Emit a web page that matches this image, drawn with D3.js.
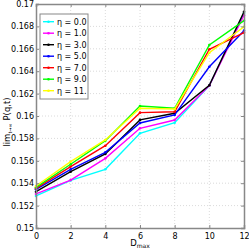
<!DOCTYPE html>
<html>
<head>
<meta charset="utf-8">
<script src="https://cdn.jsdelivr.net/npm/d3@7"></script>
<style>
  body { margin: 0; background: #fff; }
  text { font-family: "DejaVu Sans", sans-serif; }
</style>
</head>
<body>
<div id="chart"></div>
<script>
// data
var dmax = [0, 2, 4, 6, 8, 10, 12];
var etaLabels = ["\u03b7 = 0.0", "\u03b7 = 1.0", "\u03b7 = 3.0", "\u03b7 = 5.0", "\u03b7 = 7.0", "\u03b7 = 9.0", "\u03b7 = 11."];
var colors = ["#00ffff", "#ff00ff", "#000000", "#0000ff", "#ff0000", "#00ff00", "#ffff00"];
var eta0  = [0.15286, 0.15425, 0.15524, 0.15846, 0.15940, 0.16271, 0.16920];
var eta1  = [0.15304, 0.15428, 0.15622, 0.15890, 0.15964, 0.16271, 0.16900];
var eta3  = [0.15324, 0.15503, 0.15661, 0.15965, 0.16024, 0.16275, 0.16930];
var eta5  = [0.15345, 0.15524, 0.15676, 0.15938, 0.16009, 0.16440, 0.16762];
var eta7  = [0.15354, 0.15548, 0.15735, 0.16030, 0.16038, 0.16596, 0.16744];
var eta9  = [0.15363, 0.15569, 0.15780, 0.16089, 0.16069, 0.16634, 0.16851];
var eta11 = [0.15375, 0.15592, 0.15786, 0.16069, 0.16063, 0.16565, 0.16797];
var series = [eta0, eta1, eta3, eta5, eta7, eta9, eta11];
var xTicks = [0, 2, 4, 6, 8, 10, 12];
var yTicks = [0.15, 0.152, 0.154, 0.156, 0.158, 0.16, 0.162, 0.164, 0.166, 0.168, 0.17];

var W = 249, H = 250;
var margin = {top: 4, right: 5, bottom: 22, left: 36};
var width = W - margin.left - margin.right;
var height = H - margin.top - margin.bottom;

var svg = d3.select("#chart").append("svg")
  .attr("width", W).attr("height", H);
var g = svg.append("g")
  .attr("transform", "translate(" + margin.left + "," + margin.top + ")");

var x = d3.scaleLinear().domain([0, 12]).range([0, width]);
var y = d3.scaleLinear().domain([0.15, 0.17]).range([height, 0]);

// grid
g.append("g").selectAll("line").data(xTicks.slice(1, -1)).enter().append("line")
  .attr("x1", d => x(d)).attr("x2", d => x(d)).attr("y1", 0).attr("y2", height)
  .attr("stroke", "#d0d0d0").attr("stroke-dasharray", "1,2").attr("stroke-width", 0.8);
g.append("g").selectAll("line").data(yTicks.slice(1, -1)).enter().append("line")
  .attr("y1", d => y(d)).attr("y2", d => y(d)).attr("x1", 0).attr("x2", width)
  .attr("stroke", "#d0d0d0").attr("stroke-dasharray", "1,2").attr("stroke-width", 0.8);

// lines
var line = d3.line().x((d, i) => x(dmax[i])).y(d => y(d));
series.forEach(function (s, k) {
  g.append("path").datum(s)
    .attr("fill", "none").attr("stroke", colors[k]).attr("stroke-width", 1.4)
    .attr("d", line);
  g.append("g").selectAll("circle").data(s).enter().append("circle")
    .attr("cx", (d, i) => x(dmax[i])).attr("cy", d => y(d)).attr("r", 1.3)
    .attr("fill", colors[k]);
});

// axes
var axisColor = "#888";
var xb = g.append("g").attr("transform", "translate(0," + height + ")")
  .call(d3.axisBottom(x).tickValues(xTicks).tickSize(-3).tickPadding(5).tickFormat(d3.format("d")));
var xt = g.append("g")
  .call(d3.axisTop(x).tickValues(xTicks).tickSize(-3).tickFormat(""));
var yl = g.append("g")
  .call(d3.axisLeft(y).tickValues(yTicks).tickSize(-3).tickPadding(2).tickFormat(d => String(+d.toFixed(3))));
var yr = g.append("g").attr("transform", "translate(" + width + ",0)")
  .call(d3.axisRight(y).tickValues(yTicks).tickSize(-3).tickFormat(""));
[xb, xt, yl, yr].forEach(function (a) {
  a.select(".domain").attr("stroke", axisColor).attr("stroke-width", 1.5);
  a.selectAll(".tick line").attr("stroke", axisColor);
  a.selectAll("text").attr("fill", "#000").style("font-size", "8px")
    .style("font-family", "'DejaVu Sans', sans-serif");
});

// axis titles
var xlab = svg.append("text").attr("x", margin.left + width / 2).attr("y", 246)
  .attr("text-anchor", "middle").style("font-size", "8.5px");
xlab.append("tspan").text("D");
xlab.append("tspan").attr("dy", 2).style("font-size", "6px").text("max");

var ylab = svg.append("text")
  .attr("transform", "translate(10,122) rotate(-90)")
  .attr("text-anchor", "middle").style("font-size", "8.5px");
ylab.append("tspan").text("lim");
ylab.append("tspan").attr("dy", 2).style("font-size", "5px").text("t\u2192\u221e");
ylab.append("tspan").attr("dy", -2).text(" P(q,t)");

// legend
var lg = svg.append("g").attr("transform", "translate(40,14)");
lg.append("rect").attr("width", 48).attr("height", 85)
  .attr("fill", "#fff").attr("stroke", axisColor).attr("stroke-width", 1);
etaLabels.forEach(function (lab, k) {
  var cy = 7.7 + k * 11.5;
  lg.append("line").attr("x1", 3).attr("x2", 14).attr("y1", cy).attr("y2", cy)
    .attr("stroke", colors[k]).attr("stroke-width", 1.4);
  lg.append("circle").attr("cx", 8.5).attr("cy", cy).attr("r", 1.3).attr("fill", colors[k]);
  lg.append("text").attr("x", 17).attr("y", cy + 3)
    .style("font-size", "8px").text(lab);
});
</script>
</body>
</html>
